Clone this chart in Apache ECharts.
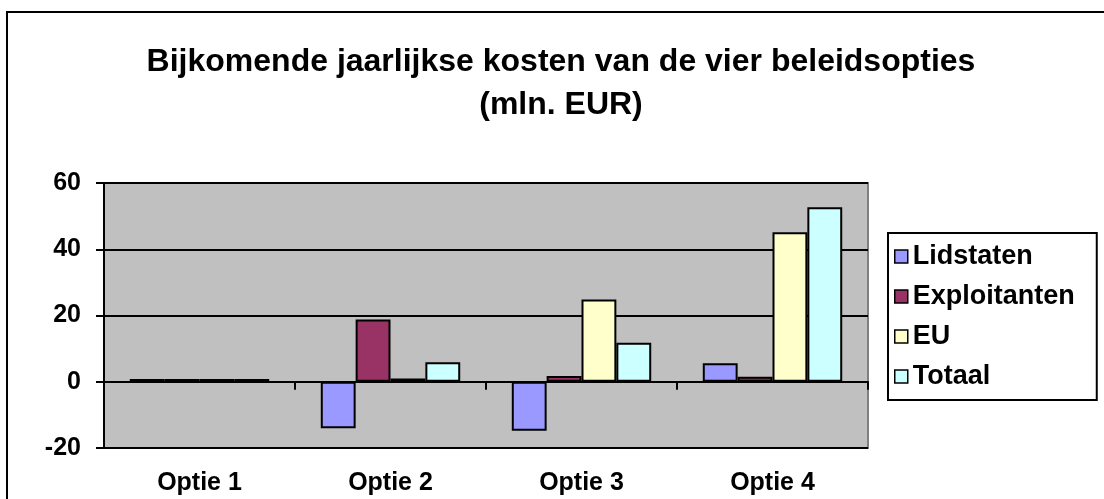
<!DOCTYPE html>
<html>
<head>
<meta charset="utf-8">
<script src="https://cdn.jsdelivr.net/npm/echarts@6/dist/echarts.min.js"></script>
<style>
  html, body { margin: 0; padding: 0; background: #fff; }
  #chart { width: 1104px; height: 499px; }
</style>
</head>
<body>
<div id="chart"></div>
<script>
const categories = ['Optie 1', 'Optie 2', 'Optie 3', 'Optie 4']
const lidstaten = [0.8, -14, -14.8, 5.6]
const exploitanten = [0.8, 18.8, 1.7, 1.5]
const eu = [0.8, 1, 24.8, 45.1]
const totaal = [0.8, 5.9, 11.8, 52.7]
const yTicks = { min: -20, max: 60, interval: 20 }

const font = 'Arial, "Liberation Sans", sans-serif'
const labelStyle = { color: '#000', fontFamily: font, fontWeight: 'bold', fontSize: 25 }

function barSeries(name, data, color) {
  return {
    name,
    type: 'bar',
    data,
    xAxisIndex: 0,
    barGap: '0%',
    barCategoryGap: '27%',
    itemStyle: { color, borderColor: '#000', borderWidth: 2 },
  }
}

const chart = echarts.init(document.getElementById('chart'))
chart.setOption({
  animation: false,
  backgroundColor: '#fff',
  graphic: [
    {
      type: 'rect',
      z: -10,
      shape: { x: 7, y: 12, width: 1200, height: 600 },
      style: { fill: 'none', stroke: '#000', lineWidth: 2 },
    },
  ],
  title: {
    text: 'Bijkomende jaarlijkse kosten van de vier beleidsopties\n(mln. EUR)',
    left: 561,
    top: 41,
    padding: 0,
    textAlign: 'center',
    textStyle: {
      color: '#000',
      fontFamily: font,
      fontWeight: 'bold',
      fontSize: 32,
      lineHeight: 43,
    },
  },
  legend: {
    orient: 'vertical',
    left: 888,
    top: 233,
    padding: [10, 22, 10, 6],
    itemGap: 13,
    itemWidth: 13,
    itemHeight: 13,
    icon: 'rect',
    backgroundColor: '#fff',
    borderColor: '#000',
    borderWidth: 2,
    textStyle: { ...labelStyle, fontSize: 27 },
    itemStyle: { borderColor: '#000', borderWidth: 1.5 },
    data: ['Lidstaten', 'Exploitanten', 'EU', 'Totaal'],
  },
  grid: {
    left: 104,
    right: 236,
    top: 183,
    bottom: 51,
    show: true,
    backgroundColor: '#C0C0C0',
    borderColor: '#808080',
    borderWidth: 2,
  },
  xAxis: [
    {
      type: 'category',
      data: categories,
      position: 'bottom',
      axisLine: { onZero: true, lineStyle: { color: '#000', width: 2 } },
      axisTick: { show: true, length: 8, lineStyle: { color: '#000', width: 2 } },
      axisLabel: { show: false },
      splitLine: { show: false },
    },
    {
      type: 'category',
      data: categories,
      position: 'bottom',
      offset: 0,
      axisLine: { show: false, onZero: false },
      axisTick: { show: false },
      axisLabel: { ...labelStyle, margin: 23 },
      splitLine: { show: false },
    },
  ],
  yAxis: {
    type: 'value',
    min: yTicks.min,
    max: yTicks.max,
    interval: yTicks.interval,
    axisLine: { show: true, lineStyle: { color: '#000', width: 2 } },
    axisTick: { show: true, length: 8, lineStyle: { color: '#000', width: 2 } },
    axisLabel: { ...labelStyle, margin: 23 },
    splitLine: { lineStyle: { color: '#000', width: 2 } },
  },
  series: [
    barSeries('Lidstaten', lidstaten, '#9999FF'),
    barSeries('Exploitanten', exploitanten, '#993366'),
    barSeries('EU', eu, '#FFFFCC'),
    barSeries('Totaal', totaal, '#CCFFFF'),
  ],
})
</script>
</body>
</html>
